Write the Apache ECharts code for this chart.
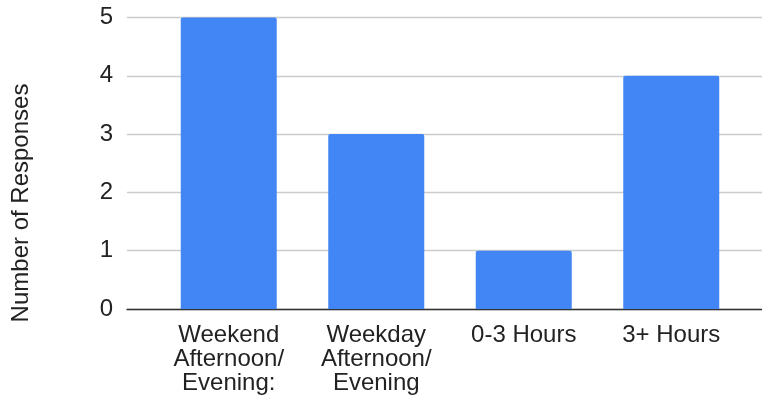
<!DOCTYPE html>
<html>
<head>
<meta charset="utf-8">
<script src="https://cdn.jsdelivr.net/npm/echarts@6/dist/echarts.min.js"></script>
<style>
html,body{margin:0;padding:0;background:#fff;}
#chart{width:762px;height:406px;}
</style>
</head>
<body>
<div id="chart"></div>
<script>
const categories = ["Weekend\nAfternoon/\nEvening:", "Weekday\nAfternoon/\nEvening", "0-3 Hours", "3+ Hours"];
const responses = [5, 3, 1, 4];
const yTicks = [0, 1, 2, 3, 4, 5];
const yTitle = "Number of Responses";

const FONT = "'Liberation Sans', Arial, sans-serif";
const chart = echarts.init(document.getElementById('chart'), null, {renderer: 'canvas'});
chart.setOption({
  animation: false,
  backgroundColor: '#fff',
  grid: [
    {left: 127, right: 0, top: 17.5, bottom: 97},
    {left: 155, right: 17, top: 17.5, bottom: 97}
  ],
  xAxis: [
    {
      gridIndex: 0, type: 'value', min: 0, max: 1,
      axisLine: {show: true, lineStyle: {color: '#333', width: 1.3}},
      axisTick: {show: false}, axisLabel: {show: false}, splitLine: {show: false}
    },
    {
      gridIndex: 1, type: 'category', data: categories,
      axisLine: {show: false}, axisTick: {show: false},
      axisLabel: {color: '#222', fontSize: 24, fontFamily: FONT, lineHeight: 24, margin: 14, interval: 0, align: 'center'}
    }
  ],
  yAxis: [
    {
      gridIndex: 0, type: 'value', min: yTicks[0], max: yTicks[yTicks.length - 1], interval: 1,
      axisLine: {show: false}, axisTick: {show: false},
      axisLabel: {color: '#222', fontSize: 24, fontFamily: FONT, margin: 14},
      splitLine: {show: true, lineStyle: {color: '#cccccc', width: 1.3}}
    },
    {
      gridIndex: 1, type: 'value', min: yTicks[0], max: yTicks[yTicks.length - 1], interval: 1,
      show: false
    }
  ],
  graphic: [{
    type: 'text', left: 9, top: 'middle', rotation: Math.PI / 2,
    style: {text: yTitle, fill: '#222', font: '24px ' + FONT}
  }],
  series: [{
    type: 'bar', xAxisIndex: 1, yAxisIndex: 1,
    data: responses, barWidth: 96,
    itemStyle: {color: '#4285F4', borderRadius: [2, 2, 0, 0]}
  }]
});
</script>
</body>
</html>
